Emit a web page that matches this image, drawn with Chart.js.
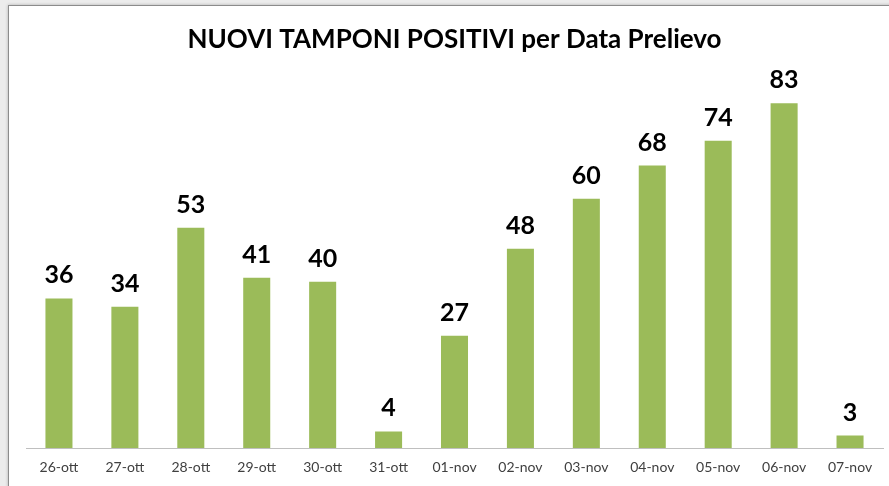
<!DOCTYPE html>
<html>
<head>
    <title>Nuovi tamponi positivi</title>
    <script src="https://cdn.jsdelivr.net/npm/chart.js"></script>
    <style>
        html, body { margin: 0; padding: 0; width: 889px; height: 486px; overflow: hidden; background: #ececec; }
        .frame { position: absolute; left: 8px; top: 5px; width: 900px; height: 500px; background: #fff; border: 1px solid #8c8c8c; box-shadow: 0 0 3px rgba(0,0,0,0.25); }
        .wrap { position: absolute; left: 0; top: 0; width: 889px; height: 486px; }
    </style>
</head>
<body>
    <div class="frame"></div>
    <div class="wrap"><canvas id="chart"></canvas></div>

    <script>
        // dati
        const giorni = ['26-ott', '27-ott', '28-ott', '29-ott', '30-ott', '31-ott', '01-nov',
                        '02-nov', '03-nov', '04-nov', '05-nov', '06-nov', '07-nov'];
        const positivi = [36, 34, 53, 41, 40, 4, 27, 48, 60, 68, 74, 83, 3];

        // etichette sopra le barre
        const valoriSopra = {
            id: 'valoriSopra',
            afterDatasetsDraw(chart) {
                const ctx = chart.ctx;
                const meta = chart.getDatasetMeta(0);
                ctx.save();
                ctx.font = 'bold 25px Lato, "Open Sans", sans-serif';
                ctx.fillStyle = '#000';
                ctx.textAlign = 'center';
                ctx.textBaseline = 'alphabetic';
                meta.data.forEach((bar, i) => {
                    ctx.fillText(positivi[i], bar.x, bar.y - 15);
                });
                ctx.restore();
            }
        };

        const ctx = document.getElementById('chart').getContext('2d');
        new Chart(ctx, {
            type: 'bar',
            data: {
                labels: giorni,
                datasets: [{
                    data: positivi,
                    backgroundColor: '#9bbb59',
                    borderWidth: 0,
                    categoryPercentage: 1,
                    barPercentage: 0.41
                }]
            },
            options: {
                responsive: true,
                maintainAspectRatio: false,
                animation: false,
                layout: { padding: { left: 26, right: 6, top: 0, bottom: 0 } },
                scales: {
                    x: {
                        grid: { display: false, drawTicks: false },
                        border: { display: true, color: '#bfbfbf', width: 1 },
                        ticks: {
                            padding: 12,
                            color: '#404040',
                            font: { family: 'Lato, "Open Sans", sans-serif', size: 14, lineHeight: 1 }
                        }
                    },
                    y: {
                        display: false,
                        min: 0,
                        max: 90
                    }
                },
                plugins: {
                    legend: { display: false },
                    tooltip: { enabled: false },
                    title: {
                        display: true,
                        text: 'NUOVI TAMPONI POSITIVI per Data Prelievo',
                        color: '#000',
                        font: { family: 'Lato, "Open Sans", sans-serif', size: 26, weight: 'bold' },
                        padding: { top: 24, bottom: 19 }
                    }
                }
            },
            plugins: [valoriSopra]
        });
    </script>
</body>
</html>
